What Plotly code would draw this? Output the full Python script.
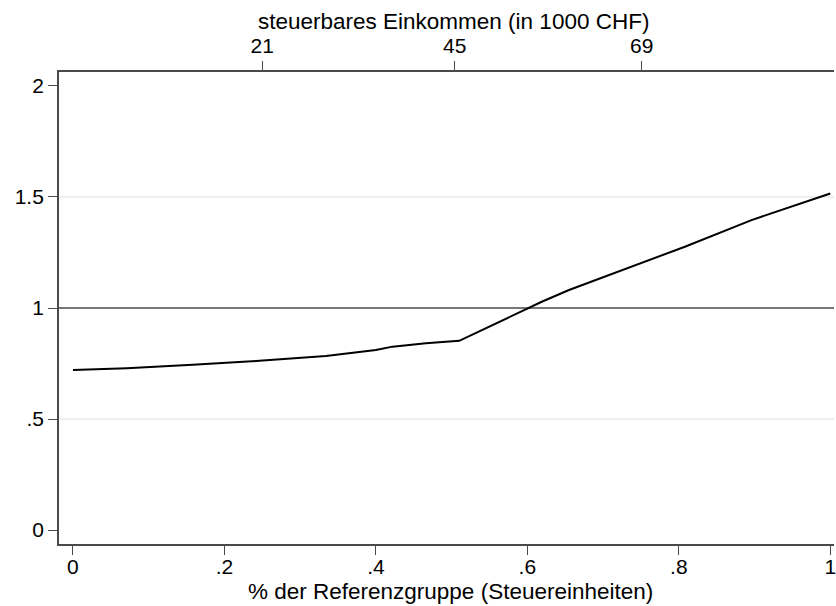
import plotly.graph_objects as go

# Data
share = [0.0, 0.071, 0.158, 0.246, 0.334, 0.40, 0.422, 0.466, 0.51,
         0.602, 0.619, 0.655, 0.72, 0.808, 0.896, 1.0]
ratio = [0.721, 0.729, 0.744, 0.762, 0.784, 0.811, 0.826, 0.841, 0.852,
         0.999, 1.028, 1.081, 1.163, 1.276, 1.396, 1.516]

x_tickvals = [0, 0.2, 0.4, 0.6, 0.8, 1]
x_ticktext = ["0", ".2", ".4", ".6", ".8", "1"]
y_tickvals = [0, 0.5, 1, 1.5, 2]
y_ticktext = ["0", ".5", "1", "1.5", "2"]
grid_vals = [0.5, 1.5]
ref_value = 1.0

top_tickvals = [0.25, 0.504, 0.751]
top_ticktext = ["21", "45", "69"]

x_title = "% der Referenzgruppe (Steuereinheiten)"
top_title = "steuerbares Einkommen (in 1000 CHF)"

FONT = "Liberation Sans, Arial, sans-serif"
AX = "#4a4a4a"
FS = 21
FT = 22.5
xr = [-0.0184, 1.0049]
yr = [-0.063, 2.063]

fig = go.Figure()

for g in grid_vals:
    fig.add_shape(type="line", xref="paper", x0=0, x1=1, yref="y", y0=g, y1=g,
                  line=dict(color="#e8e8e8", width=1.5), layer="below")
fig.add_shape(type="line", xref="paper", x0=0, x1=1, yref="y", y0=ref_value, y1=ref_value,
              line=dict(color="#4a4a4a", width=1.6), layer="below")

fig.add_trace(go.Scatter(x=share, y=ratio, mode="lines",
                         line=dict(color="black", width=2), showlegend=False))
fig.add_trace(go.Scatter(x=share, y=ratio, mode="lines", xaxis="x2",
                         line=dict(color="rgba(0,0,0,0)", width=0),
                         showlegend=False, hoverinfo="skip"))

fig.add_annotation(text=top_title, xref="paper", yref="paper", x=0.5085, y=1.107,
                   xanchor="center", yanchor="middle", showarrow=False,
                   font=dict(size=FT, family=FONT, color="black"))
fig.add_annotation(text=x_title, xref="paper", yref="paper", x=0.5055, y=-0.0996,
                   xanchor="center", yanchor="middle", showarrow=False,
                   font=dict(size=FT, family=FONT, color="black"))

fig.update_layout(
    width=836, height=606,
    margin=dict(l=59, r=0, t=72, b=62),
    paper_bgcolor="white", plot_bgcolor="white",
    font=dict(family=FONT, size=FS, color="black"),
    xaxis=dict(range=xr, tickvals=x_tickvals, ticktext=x_ticktext,
               showgrid=False, zeroline=False, showline=True, linecolor=AX, linewidth=1.8,
               ticks="outside", ticklen=9, tickwidth=1.3, tickcolor=AX,
               ticklabeloverflow="allow", ticklabelstandoff=-6,
               tickfont=dict(size=FS)),
    xaxis2=dict(range=xr, overlaying="x", side="top", tickvals=top_tickvals,
                ticktext=top_ticktext, showgrid=False, zeroline=False,
                showline=True, linecolor=AX, linewidth=1.8,
                ticks="outside", ticklen=9, tickwidth=1.3, tickcolor=AX,
                tickfont=dict(size=FS)),
    yaxis=dict(range=yr, tickvals=y_tickvals, ticktext=y_ticktext,
               showgrid=False, zeroline=False, showline=True, linecolor=AX, linewidth=1.8,
               ticks="outside", ticklen=9, tickwidth=1.3, tickcolor=AX,
               tickfont=dict(size=FS)),
)

fig.write_html("out.html", config={"displayModeBar": False},
               post_script="document.body.style.margin='0';document.body.style.overflow='hidden';")
